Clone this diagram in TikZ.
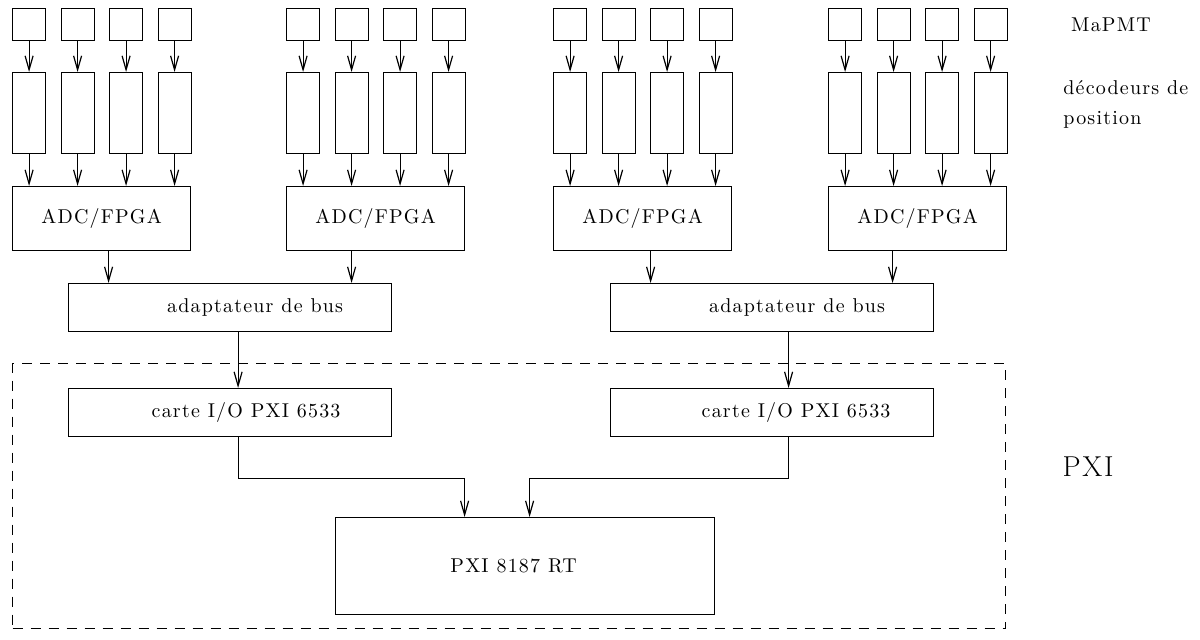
\documentclass[tikz,border=0pt]{standalone}
\usepackage{fontspec}
\setmainfont{Latin Modern Roman}[LetterSpace=6]
\usetikzlibrary{positioning,arrows.meta}

\tikzset{
  blk/.style={draw, line width=0.6pt, inner sep=0pt, anchor=north west},
  arr/.style={line width=0.6pt, -{Straight Barb[length=7pt,width=4pt]}},
  pxiframe/.style={draw, line width=0.6pt, dash pattern=on 5pt off 4pt, inner sep=0pt, anchor=north west}
}

\begin{document}
\begin{tikzpicture}[x=0.5pt, y=-0.5pt]
  \useasboundingbox (0,0) rectangle (1200,639);

  % PXI frame
  \node[pxiframe, minimum width=496.5pt, minimum height=132.5pt] (frame) at (12,363) {};

  % Bus adapters and I/O cards
  \node[blk, minimum width=161.5pt, minimum height=24pt] (adp1) at (68,283) {\hspace*{25pt}adaptateur de bus};
  \node[blk, minimum width=161.5pt, minimum height=24pt] (adp2) at (610,283) {\hspace*{25pt}adaptateur de bus};
  \node[blk, minimum width=161.5pt, minimum height=24pt] (io1) at (68,388) {\hspace*{16pt}carte I/O PXI 6533};
  \node[blk, minimum width=161.5pt, minimum height=24pt] (io2) at (610,388) {\hspace*{24pt}carte I/O PXI 6533};

  % RT controller
  \node[blk, minimum width=189.5pt, minimum height=48.5pt] (rt) at (335,517) {PXI 8187 RT\hspace*{11.5pt}};

  % Four MaPMT groups
  \foreach \g/\gx/\dx/\a in {1/12/3.5/adp1, 2/286/-12/adp1, 3/553/4/adp2, 4/828/-12.5/adp2} {
    \node[blk, minimum width=89pt, minimum height=32pt] (adc\g) at (\gx,186) {ADC/FPGA};
    \foreach \k in {1,...,4} {
      \node[blk, minimum width=16.5pt, minimum height=16pt] (pmt\g\k) at ({\gx+48.5*(\k-1)},8) {};
      \node[blk, minimum width=16.5pt, minimum height=40.5pt] (dec\g\k) at ({\gx+48.5*(\k-1)},72) {};
      \draw[arr] (pmt\g\k) -- (dec\g\k);
      \draw[arr] (dec\g\k) -- (dec\g\k.south |- adc\g.north);
    }
    \coordinate (out\g) at ([xshift=\dx pt]adc\g.south);
    \draw[arr] (out\g) -- (out\g |- \a.north);
  }

  % Adapters to I/O cards
  \coordinate (bus1) at ([xshift=4pt]adp1.south);
  \coordinate (bus2) at ([xshift=8.25pt]adp2.south);
  \draw[arr] (bus1) -- (bus1 |- io1.north);
  \draw[arr] (bus2) -- (bus2 |- io2.north);

  % I/O cards to RT controller
  \draw[arr] (bus1 |- io1.south) -- ++(0,41) -| ([xshift=-30.25pt]rt.north);
  \draw[arr] (bus2 |- io2.south) -- ++(0,41) -| ([xshift=2.25pt]rt.north);

  % Labels
  \node (lpmt) at (1111,25) {MaPMT};
  \node[anchor=west, align=left, inner sep=0pt] (ldec) at (1063,104) {décodeurs de\\[3pt]position};
  \node (lpxi) at (1088,467) {\Large PXI};
\end{tikzpicture}
\end{document}
